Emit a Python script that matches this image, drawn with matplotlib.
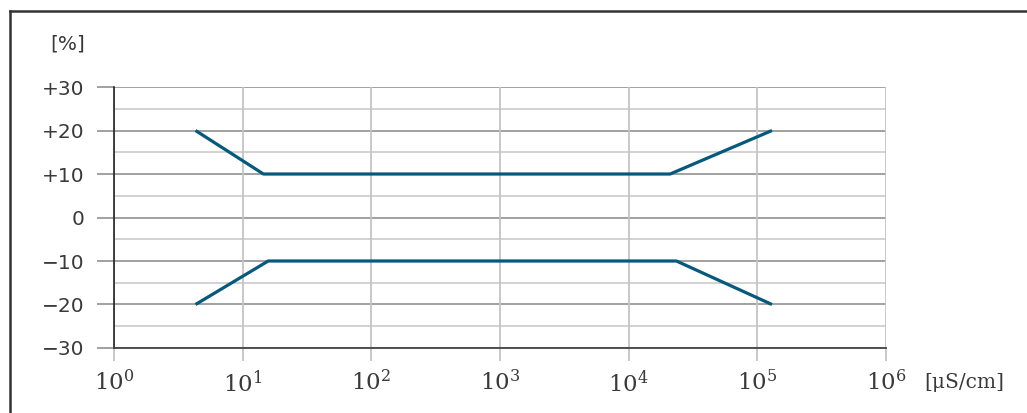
import matplotlib
matplotlib.use("Agg")
import matplotlib.pyplot as plt
from matplotlib.lines import Line2D

plt.rcParams["mathtext.fontset"] = "dejavuserif"

# Conductivity (µS/cm) and error limits (%)
upper_x = [4.3, 14.5, 21000, 130000]
upper_y = [20, 10, 10, 20]
lower_x = [4.3, 15.8, 23500, 130000]
lower_y = [-20, -10, -10, -20]

y_major = [-30, -20, -10, 0, 10, 20, 30]
y_labels = ["\u221230", "\u221220", "\u221210", "0", "+10", "+20", "+30"]
y_minor = [-25, -15, -5, 5, 15, 25]
x_decades = [0, 1, 2, 3, 4, 5, 6]

line_color = "#05597c"
text_color = "#3a3a3a"
fs = 14.5
fs_x = 16.5

fig = plt.figure(figsize=(10.27, 4.13), dpi=100)
ax = fig.add_axes([0.111, 0.1574, 0.7517, 0.6319])
ax.set_xscale("log")
ax.set_xlim(1, 1e6)
ax.set_ylim(-30, 30)

# grid
for v in y_minor:
    ax.axhline(v, color="#cfcfcf", lw=1.3, zorder=1)
for v in y_major:
    ax.axhline(v, color="#9a9a9a", lw=1.3, zorder=1)
for d in x_decades:
    ax.axvline(10.0 ** d, color="#c4c4c4", lw=1.3, zorder=1)

ax.plot(upper_x, upper_y, color=line_color, lw=2.3, solid_capstyle="butt", zorder=3)
ax.plot(lower_x, lower_y, color=line_color, lw=2.3, solid_capstyle="butt", zorder=3)

for s in ["top", "right"]:
    ax.spines[s].set_visible(False)
ax.spines["left"].set_color("#111111")
ax.spines["left"].set_linewidth(1.1)
ax.spines["bottom"].set_color("#444444")
ax.spines["bottom"].set_linewidth(1.3)
ax.spines["left"].set_zorder(4)
ax.spines["bottom"].set_zorder(4)

ax.set_yticks(y_major)
ax.set_yticklabels(y_labels)
ax.set_xticks([10.0 ** d for d in x_decades])
ax.set_xticklabels([f"$\\mathregular{{10}}^{{{d}}}$" for d in x_decades],
                   family="DejaVu Serif")
ax.xaxis.set_minor_locator(matplotlib.ticker.NullLocator())
ax.tick_params(axis="y", length=12.5, width=1.3, color="#9a9a9a", pad=9,
               labelsize=fs, labelcolor=text_color)
ax.tick_params(axis="x", length=9, width=1.3, color="#c4c4c4", pad=7,
               labelsize=fs_x, labelcolor=text_color)
ax.patch.set_alpha(0)

fig.text(0.0487, 0.893, "[%]", fontsize=fs, color=text_color, ha="left", va="center")
fig.text(0.9, 0.074, "[\u03bcS/cm]", fontsize=14.5, family="DejaVu Serif",
         color=text_color, ha="left", va="center")

# outer frame (top and left edges)
fig.add_artist(Line2D([0.0097, 0.0097], [0.0, 0.973], transform=fig.transFigure,
                      color="#333333", lw=1.8))
fig.add_artist(Line2D([0.0097, 1.0], [0.973, 0.973], transform=fig.transFigure,
                      color="#333333", lw=1.8))

fig.savefig("out.png", dpi=100)
